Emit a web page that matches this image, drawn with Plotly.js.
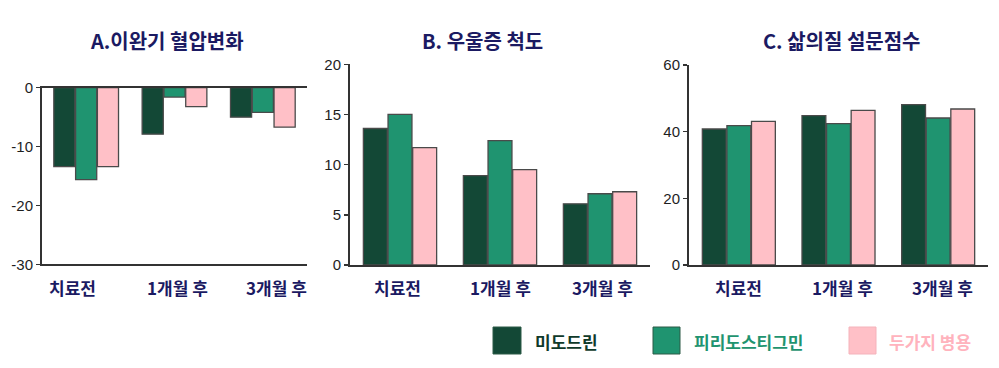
<!DOCTYPE html>
<html>
<head>
<meta charset="utf-8">
<script src="https://cdn.plot.ly/plotly-3.0.1.min.js"></script>
<style>
  html, body { margin: 0; padding: 0; background: #ffffff; }
  #chart { width: 999px; height: 368px; }
</style>
</head>
<body>
<div id="chart"></div>
<script>
// ---- data ----
const categories = ["치료전", "1개월 후", "3개월 후"];
const seriesNames = ["미도드린", "피리도스티그민", "두가지 병용"];

const panelTitles = ["A.이완기 혈압변화", "B. 우울증 척도", "C. 삶의질 설문점수"];

// A. diastolic blood pressure change
const bpMidodrine = [-13.4, -7.9, -5.0];
const bpPyridostigmine = [-15.6, -1.6, -4.2];
const bpCombined = [-13.4, -3.2, -6.7];

// B. depression scale
const depMidodrine = [13.6, 8.9, 6.1];
const depPyridostigmine = [15.0, 12.4, 7.1];
const depCombined = [11.7, 9.5, 7.3];

// C. quality of life score
const qolMidodrine = [40.8, 44.8, 48.1];
const qolPyridostigmine = [41.8, 42.4, 44.1];
const qolCombined = [43.1, 46.4, 46.8];

// tick labels
const tickValsA = [0, -10, -20, -30];
const tickTextA = ["0", "-10", "-20", "-30"];
const tickValsB = [0, 5, 10, 15, 20];
const tickTextB = ["0", "5", "10", "15", "20"];
const tickValsC = [0, 20, 40, 60];
const tickTextC = ["0", "20", "40", "60"];

// ---- styling ----
const colors = ["#134836", "#1f9470", "#ffc0c7"];
const legendTextColors = ["#0f3a2a", "#1f9470", "#ffb3bd"];
const navy = "#1b1a62";
const axisColor = "#333333";
const W = 999, H = 368;

const panels = [
  {vals: [bpMidodrine, bpPyridostigmine, bpCombined], xa: "x", ya: "y",
   xdom: [42, 307], ytop: 87.7, ybot: 264.3, range: [-30, 0],
   tv: tickValsA, tt: tickTextA, labelShift: [-0.16, 0.03, 0.16],
   titleX: 167, titleY: 40},
  {vals: [depMidodrine, depPyridostigmine, depCombined], xa: "x2", ya: "y2",
   xdom: [350, 650], ytop: 64.3, ybot: 265, range: [0, 20],
   tv: tickValsB, tt: tickTextB, labelShift: [-0.03, 0, 0.02],
   titleX: 482, titleY: 40},
  {vals: [qolMidodrine, qolPyridostigmine, qolCombined], xa: "x3", ya: "y3",
   xdom: [689, 988], ytop: 65, ybot: 265, range: [0, 60],
   tv: tickValsC, tt: tickTextC, labelShift: [0, 0.04, 0.04],
   titleX: 842, titleY: 40}
];

const traces = [];
const layout = {
  width: W, height: H,
  margin: {l: 0, r: 0, t: 0, b: 0},
  paper_bgcolor: "#ffffff",
  plot_bgcolor: "#ffffff",
  barmode: "group",
  bargap: 0.26,
  bargroupgap: 0.03,
  showlegend: false,
  font: {family: "Liberation Sans, Arial, sans-serif", size: 14, color: "#222222"},
  annotations: [],
  shapes: []
};

panels.forEach((p, pi) => {
  p.vals.forEach((v, si) => {
    traces.push({
      type: "bar",
      x: categories,
      y: v,
      name: seriesNames[si],
      xaxis: p.xa,
      yaxis: p.ya,
      marker: {color: colors[si], line: {color: "#4a4a4a", width: 1.3}},
      hoverinfo: "skip"
    });
  });
  const xkey = pi === 0 ? "xaxis" : "xaxis" + (pi + 1);
  const ykey = pi === 0 ? "yaxis" : "yaxis" + (pi + 1);
  layout[xkey] = {
    domain: [p.xdom[0] / W, p.xdom[1] / W],
    anchor: p.ya,
    type: "category",
    range: [-0.5, 2.5],
    showline: true,
    linecolor: axisColor,
    linewidth: 2,
    mirror: pi === 0 ? true : false,
    showticklabels: false,
    ticks: "",
    showgrid: false,
    zeroline: false,
    fixedrange: true
  };
  layout[ykey] = {
    domain: [1 - p.ybot / H, 1 - p.ytop / H],
    anchor: p.xa,
    range: p.range,
    tickmode: "array",
    tickvals: p.tv,
    ticktext: p.tt,
    ticks: "outside",
    ticklen: 4,
    tickwidth: 1.5,
    tickcolor: axisColor,
    showline: true,
    linecolor: axisColor,
    linewidth: 2,
    showgrid: false,
    zeroline: false,
    tickfont: {family: "Liberation Sans, Arial, sans-serif", size: 15, color: "#1e1e1e"},
    fixedrange: true
  };
  // panel title
  layout.annotations.push({
    text: "<b>" + panelTitles[pi] + "</b>",
    xref: "paper", yref: "paper",
    x: p.titleX / W, y: 1 - p.titleY / H,
    xanchor: "center", yanchor: "middle",
    showarrow: false,
    font: {family: "Noto Sans CJK KR, Liberation Sans, sans-serif", size: 20, color: navy}
  });
  // category labels
  categories.forEach((c, ci) => {
    layout.annotations.push({
      text: "<b>" + c + "</b>",
      xref: p.xa, yref: "paper",
      x: ci + p.labelShift[ci], y: 1 - 287 / H,
      xanchor: "center", yanchor: "middle",
      showarrow: false,
      font: {family: "Noto Sans CJK KR, Liberation Sans, sans-serif", size: 17, color: navy}
    });
  });
});

// custom legend with large swatches
const legendBoxes = [[493, 521], [653, 680], [849, 876]];
const legendTextX = [533, 692, 887];
seriesNames.forEach((n, i) => {
  layout.shapes.push({
    type: "rect", xref: "paper", yref: "paper",
    x0: legendBoxes[i][0] / W, x1: legendBoxes[i][1] / W,
    y0: 1 - 354 / H, y1: 1 - 327 / H,
    fillcolor: colors[i],
    line: {color: i === 2 ? "#f4b3bb" : "#2d5a47", width: 1}
  });
  layout.annotations.push({
    text: "<b>" + n + "</b>",
    xref: "paper", yref: "paper",
    x: legendTextX[i] / W, y: 1 - 341 / H,
    xanchor: "left", yanchor: "middle",
    showarrow: false,
    font: {family: "Noto Sans CJK KR, sans-serif", size: 17, color: legendTextColors[i]}
  });
});

Plotly.newPlot("chart", traces, layout, {staticPlot: true, displayModeBar: false});
</script>
</body>
</html>
